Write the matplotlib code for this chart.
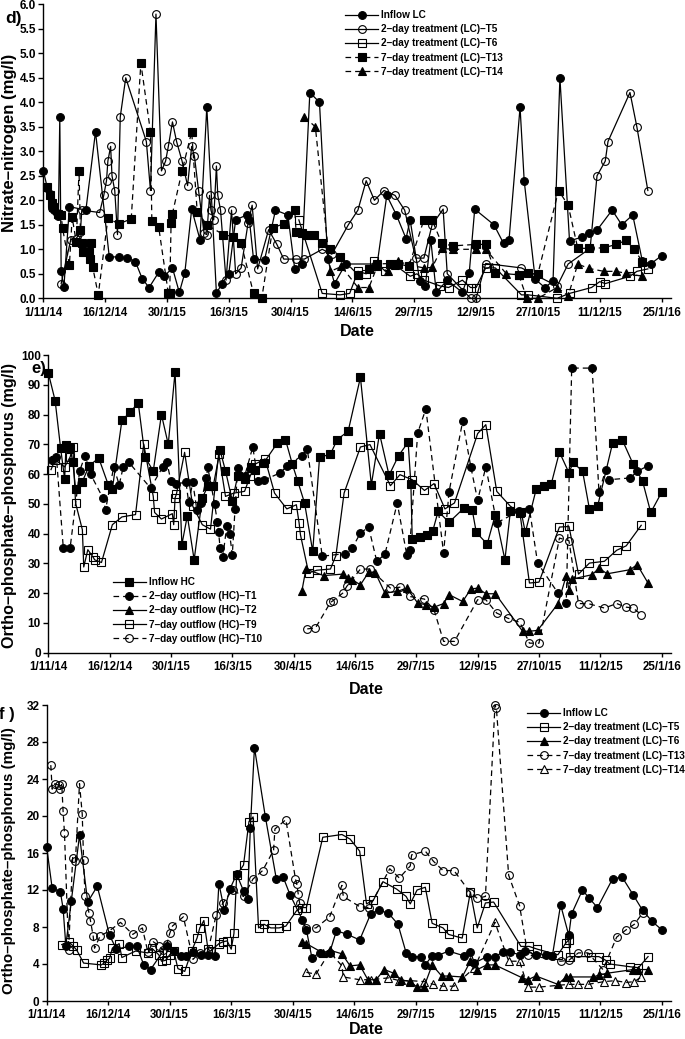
import numpy as np
import pandas as pd
import matplotlib
matplotlib.use('Agg')
import matplotlib.pyplot as plt
from matplotlib.ticker import FixedLocator, FixedFormatter

plt.rcParams['font.family'] = ['Liberation Sans', 'DejaVu Sans']
plt.rcParams['font.weight'] = 'bold'

# ---------------- common x axis ----------------
START = pd.Timestamp('2014-11-01')
x_tick_labels = ["1/11/14", "16/12/14", "30/1/15", "16/3/15", "30/4/15", "14/6/15",
                 "29/7/15", "12/9/15", "27/10/15", "11/12/15", "25/1/16"]
x_end_day = 457

# ---------------- panel d : nitrate-nitrogen ----------------
d_in_day = [0, 3, 5, 6, 8, 10, 11, 12, 13, 15,
            19, 31, 38, 48, 55, 61, 67, 72, 77, 84,
            88, 94, 99, 103, 108, 114, 119, 126, 130, 135,
            140, 148, 150, 153, 161, 169, 178, 183, 188,
            194, 201, 207, 212, 220, 243, 250, 257, 264, 267,
            274, 278, 282, 286, 294, 305, 310, 314, 328, 335,
            339, 347, 350, 358, 365, 371, 376, 383, 392, 397,
            403, 414, 421, 429, 436, 442, 450]
d_in_val = [2.6, 2.25, 2.12, 1.85, 1.8, 1.75, 1.68, 3.7, 0.55, 0.23,
            1.87, 1.8, 3.4, 0.85, 0.84, 0.82, 0.75, 0.4, 0.22, 0.53,
            0.45, 0.62, 0.12, 0.52, 1.82, 1.2, 3.9, 0.1, 0.3, 0.5,
            1.6, 1.7, 1.6, 0.8, 0.78, 1.8, 1.7, 0.6, 0.7,
            4.2, 4.0, 0.8, 0.3, 0.7, 0.7, 2.1, 1.7, 1.22, 1.6,
            0.35, 0.25, 1.2, 0.12, 0.37, 0.12, 0.52, 1.82, 1.5, 1.12,
            1.2, 3.9, 2.4, 0.39, 0.22, 0.35, 4.5, 1.17, 1.25, 1.34,
            1.39, 1.8, 1.5, 1.7, 0.76, 0.7, 0.87]

d_t5_day = [13, 20, 24, 27, 28, 41, 44, 46, 47, 49,
            50, 52, 54, 56, 60, 75, 78, 82, 86, 89,
            91, 94, 97, 101, 105, 108, 110, 113, 117, 119,
            121, 122, 124, 126, 127, 129, 133, 137, 140, 144,
            149, 152, 156, 164, 170, 175, 184, 190, 203, 210,
            222, 229, 235, 241, 248, 256, 263, 271, 277, 283,
            291, 294, 311, 315, 322, 348, 374, 382, 398, 403,
            409, 411, 427, 432, 440]
d_t5_val = [0.3, 1.2, 1.22, 1.35, 1.8, 1.75, 2.1, 2.4, 2.8, 3.1,
            2.5, 2.2, 1.3, 3.7, 4.5, 3.2, 2.2, 5.8, 2.6, 2.8,
            3.1, 3.6, 3.2, 2.8, 2.3, 3.1, 2.9, 2.2, 1.33, 1.3,
            2.1, 1.8, 1.6, 2.7, 2.1, 1.8, 0.37, 1.8, 0.5, 0.62,
            1.53, 1.9, 0.6, 1.4, 1.1, 0.8, 0.8, 0.8, 1.0, 0.9,
            1.5, 1.8, 2.4, 2.0, 2.2, 2.1, 1.8, 0.82, 0.82, 1.5,
            1.82, 0.5, 0.0, 0.0, 0.71, 0.62, 0.25, 0.7, 1.02, 2.5,
            2.8, 3.2, 4.2, 3.5, 2.2]

d_t6_day = [186, 203, 216, 223, 229, 235, 241, 249, 256, 267,
            272, 277, 289, 295, 305, 311, 315, 322, 329, 348,
            353, 374, 383, 399, 405, 409, 427, 432, 440]
d_t6_val = [1.6, 0.1, 0.07, 0.1, 0.55, 0.5, 0.76, 0.55, 0.68, 0.45,
            0.5, 0.37, 0.25, 0.22, 0.37, 0.22, 0.22, 0.62, 0.62, 0.07,
            0.07, 0.0, 0.1, 0.22, 0.34, 0.3, 0.45, 0.55, 0.6]

d_t13_day = [3, 5, 6, 7, 11, 13, 14, 19, 21, 24,
             26, 27, 28, 29, 33, 34, 35, 36, 40, 47,
             55, 64, 71, 78, 79, 84, 91, 92, 93, 94,
             101, 108, 112, 119, 131, 138, 144, 153, 159, 167,
             175, 183, 184, 188, 191, 197, 203, 209, 216, 229,
             237, 243, 252, 258, 266, 277, 283, 290, 298, 315,
             322, 329, 346, 353, 360, 375, 382, 389, 397, 408,
             417, 424, 430, 436]
d_t13_val = [2.27, 2.1, 1.94, 1.87, 1.73, 1.7, 1.43, 0.68, 1.65, 1.15,
             2.6, 1.4, 1.12, 0.95, 0.95, 0.8, 1.12, 0.63, 0.07, 1.63,
             1.52, 1.62, 4.8, 3.4, 1.58, 1.45, 0.1, 0.1, 1.54, 1.73,
             2.6, 3.4, 1.77, 1.5, 1.3, 1.26, 1.12, 0.1, 0.0, 1.44,
             1.52, 1.8, 1.35, 1.33, 1.3, 1.3, 1.13, 1.0, 0.85, 0.48,
             0.6, 0.7, 0.71, 0.71, 0.65, 1.6, 1.6, 1.12, 1.07, 1.1,
             1.1, 0.52, 0.48, 0.51, 0.5, 2.2, 1.9, 1.02, 1.02, 1.03,
             1.1, 1.18, 1.0, 0.75]

d_t14_day = [190, 198, 209, 217, 229, 237, 243, 251, 258, 266,
             277, 283, 290, 298, 315, 322, 337, 346, 352, 360,
             374, 382, 389, 397, 408, 417, 424, 436]
d_t14_val = [3.7, 3.5, 0.55, 0.65, 0.22, 0.22, 0.65, 0.55, 0.76, 0.68,
             0.62, 0.63, 1.02, 1.0, 1.0, 1.0, 0.5, 0.48, 0.0, 0.0,
             0.22, 0.05, 0.7, 0.61, 0.55, 0.55, 0.51, 0.45]

# ---------------- panel e : ortho-phosphate HC ----------------
e_in_day = [0, 5, 9, 12, 13, 16, 18, 20, 25, 30,
            37, 44, 47, 54, 60, 66, 71, 77, 83, 88,
            93, 98, 102, 107, 113, 117, 121, 126, 130, 135,
            139, 144, 149, 152, 158, 168, 174, 179, 183, 188,
            194, 199, 207, 212, 220, 229, 237, 243, 250, 257,
            264, 266, 267, 273, 278, 282, 286, 294, 305, 311,
            314, 322, 328, 335, 339, 347, 350, 358, 364, 369,
            375, 382, 385, 392, 397, 403, 414, 421, 429, 436,
            442, 450]
e_in_val = [94, 84.7, 68.8, 58.3, 69.9, 68.8, 64, 55, 57.5, 62.8,
            65.4, 56.4, 55, 78, 80.8, 83.9, 65.7, 61, 80, 70,
            94.3, 36.3, 46, 31.2, 52, 55.9, 56, 68, 61.1, 51,
            59.5, 58.3, 62.3, 61.5, 63.7, 70.4, 71.6, 63.4, 57.6, 50.3,
            34, 65.6, 66.7, 71.6, 74.4, 92.5, 56.4, 73.6, 59.6, 66.2,
            70.7, 56.8, 38.3, 38.9, 39.6, 40.8, 47.5, 43.8, 48.6, 48,
            40.4, 36.5, 46.4, 31.2, 47.5, 47.1, 40.4, 55, 55.9, 56.7,
            67.4, 60.4, 63.9, 60.9, 48.3, 49.2, 70.4, 71.6, 63.4, 57.6,
            47.1, 53.9]

e_t1_day = [3, 6, 11, 16, 23, 27, 31, 40, 42, 48,
            52, 55, 59, 75, 84, 87, 90, 94, 101, 103,
            106, 109, 112, 116, 117, 122, 124, 125, 126, 128,
            131, 133, 135, 137, 139, 144, 150, 154, 158, 170,
            175, 186, 190, 201, 218, 223, 229, 235, 241, 247,
            256, 263, 265, 271, 277, 290, 294, 304, 310, 315,
            321, 329, 345, 353, 359, 374, 380, 384, 399, 404,
            409, 411, 427, 432, 440]
e_t1_val = [64.8, 65.6, 35.2, 35.2, 61.1, 66.2, 60, 52, 48, 62.4,
            56.4, 62.4, 64, 55.3, 62.4, 64, 57.6, 56.8, 57.2, 50.5,
            57.2, 48, 50.3, 58.7, 62.3, 50, 44, 40.4, 35.2, 32.1,
            42.7, 40, 32.9, 48.3, 62, 59.2, 69.1, 57.6, 57.9, 60.4,
            62.6, 66.2, 68.4, 32.4, 33.3, 35.2, 40.2, 42.2, 30.7, 33.1,
            50.3, 32.9, 34.4, 73.8, 81.9, 33.5, 54, 77.7, 62.4, 51.2,
            62.4, 43.6, 47.5, 48.3, 30.1, 20, 16.7, 95.6, 95.6, 54,
            61.5, 58.1, 58.7, 60.9, 62.8]

e_t2_day = [186, 189, 202, 216, 220, 223, 229, 235, 240, 247,
            256, 263, 271, 277, 283, 290, 294, 304, 310, 315,
            321, 328, 348, 353, 359, 374, 380, 382, 384, 399,
            404, 410, 427, 432, 440]
e_t2_val = [20.6, 28.1, 25.9, 26.4, 25, 24.5, 22.8, 27, 26.8, 20,
            20.6, 21.7, 16.7, 16.1, 15.3, 16.5, 19.5, 17.2, 21.4, 21.7,
            19.8, 19.8, 7.2, 7.2, 7.5, 16.5, 25.9, 21.2, 24.7, 26.2,
            28.4, 26.5, 27.9, 29.6, 23.4]

e_t9_day = [2, 5, 12, 16, 18, 20, 25, 26, 29, 33,
            34, 39, 47, 54, 64, 70, 77, 78, 83, 91,
            92, 93, 94, 100, 106, 113, 119, 125, 130, 136,
            144, 148, 152, 159, 166, 175, 182, 184, 185, 191,
            197, 207, 211, 217, 229, 236, 251, 258, 267, 276,
            283, 291, 298, 315, 321, 329, 339, 346, 353, 360,
            375, 382, 389, 397, 408, 417, 424, 435]
e_t9_val = [61.5, 64.8, 62.4, 65.7, 69.1, 50.3, 41.3, 28.8, 34.6, 32,
            31.2, 30.3, 43, 45.6, 46.4, 70.1, 52.5, 47.1, 44.9, 46.7,
            43, 52, 53.3, 67.3, 49.2, 43, 41.5, 66.9, 52.5, 53.6,
            54.2, 59.2, 63.4, 65.1, 53.6, 48.3, 49.7, 43.6, 39.6, 26.8,
            27.7, 28.1, 32.6, 53.6, 69.1, 69.9, 56.1, 59.8, 58.1, 54.5,
            56.8, 48.3, 50.3, 73.6, 76.6, 54.2, 49.2, 47, 23.4, 23.7,
            42.2, 42.4, 26.4, 30.1, 30.7, 34.4, 35.9, 42.8]

e_t10_day = [190, 196, 207, 209, 216, 219, 229, 236, 251, 258,
             265, 276, 283, 290, 298, 315, 321, 329, 337, 346,
             353, 360, 375, 382, 389, 396, 408, 417, 424, 429,
             435]
e_t10_val = [8, 8.3, 16.9, 17.5, 20, 22.3, 28.1, 28.1, 21.7, 22,
             18.9, 18, 14.4, 3.8, 3.8, 17.8, 17.8, 13.3, 11.6, 10.2,
             3.2, 3.2, 38.5, 37.6, 16.5, 16.5, 15, 16.5, 15.3, 15,
             12.8]

# ---------------- panel f : ortho-phosphate LC ----------------
f_in_day = [0, 4, 10, 12, 14, 18, 24, 30, 37,
            46, 51, 60, 66, 71, 76, 88, 93, 98, 102,
            107, 113, 118, 123, 126, 130, 134, 139, 144, 147,
            149, 152, 160, 168, 173, 178, 187, 190, 194, 200,
            207, 212, 220, 229, 237, 243, 250, 257, 263, 267,
            274, 277, 282, 286, 294, 305, 310, 313, 322, 328,
            334, 339, 346, 350, 358, 365, 370, 376, 382, 384,
            392, 397, 403, 414, 421, 429, 436, 443, 450]
f_in_val = [16.6, 12.2, 11.8, 10, 6, 10.8, 17.9, 10.7, 12.4,
            7.1, 5.6, 5.9, 5.9, 3.9, 3.4, 6, 5.4, 4.9, 4.9,
            5.3, 5, 5, 4.9, 12.7, 9.8, 12.1, 13.7, 11.9, 11,
            18.7, 27.4, 19.9, 13.2, 13.4, 11.5, 8.8, 7.7, 4.7, 5.2,
            5.2, 7.6, 7.2, 6.6, 9.4, 9.8, 9.5, 8.3, 5.2, 4.8,
            4.8, 3.9, 4.9, 4.9, 5.4, 4.9, 5.3, 4.1, 4.8, 4.8,
            5.3, 5.3, 5, 5.4, 5, 5, 4.9, 10.4, 7.1, 9.4,
            12, 11.1, 10.1, 13.2, 13.4, 11.5, 9.8, 8.6, 7.7]

f_t5_day = [11, 16, 19, 22, 27, 40, 42, 44, 46, 48,
            53, 55, 65, 74, 77, 82, 84, 87, 90, 93,
            96, 101, 106, 110, 112, 115, 118, 120, 126, 129,
            132, 135, 137, 139, 144, 148, 151, 155, 159, 164,
            170, 175, 183, 187, 190, 202, 216, 222, 229, 234,
            239, 246, 256, 263, 266, 271, 277, 282, 290, 294,
            304, 310, 315, 321, 327, 347, 353, 359, 374, 380,
            382, 383, 398, 404, 409, 412, 427, 433, 440]
f_t5_val = [6.1, 6.4, 6, 5.5, 4.1, 3.9, 4.1, 4.4, 4.6, 5.7,
            6.2, 4.7, 5.4, 5.2, 5.7, 5, 4.3, 4.4, 5, 5.4,
            3.5, 3.2, 5.4, 6.8, 7.9, 8.7, 5.6, 5.4, 6.2, 6.4,
            6.5, 5.6, 7.3, 13.6, 14.7, 19.4, 19.9, 7.9, 8.3, 7.9,
            7.9, 8.1, 9.8, 10.1, 10.1, 17.7, 18, 17.5, 16.2, 10.5,
            10.9, 12.9, 12.1, 11.3, 10.5, 12, 12.3, 8.4, 7.9, 7.2,
            6.8, 11.8, 7.9, 10.6, 10.7, 5.9, 5.9, 5.6, 5, 6.3,
            6.6, 4.8, 4.8, 4.8, 4.4, 4, 3.7, 3.6, 4.8]

f_t6_day = [187, 190, 202, 207, 216, 222, 229, 235, 241, 247,
            254, 259, 266, 271, 276, 282, 289, 294, 304, 310,
            315, 322, 328, 348, 352, 358, 374, 380, 383, 400,
            404, 410, 429, 433, 440]
f_t6_val = [6.4, 6.2, 5.2, 5.5, 5.1, 3.8, 3.9, 2.3, 2.3, 3.4,
            3.0, 2.3, 2.1, 1.5, 1.5, 3.9, 2.7, 2.7, 2.6, 4.3,
            3.4, 3.9, 3.9, 2.5, 2.3, 2.7, 1.8, 2.6, 2.6, 2.6,
            2.8, 3.0, 3.4, 3.4, 3.4]

f_t13_day = [3, 4, 6, 9, 10, 11, 12, 13, 16, 19,
             21, 24, 26, 27, 28, 31, 32, 34, 35, 39,
             46, 54, 63, 70, 74, 78, 82, 85, 88, 90,
             92, 100, 107, 112, 118, 124, 129, 136, 144, 151,
             158, 166, 167, 175, 182, 183, 184, 185, 190, 197,
             207, 216, 217, 229, 236, 251, 258, 266, 267, 277,
             283, 290, 298, 310, 315, 321, 328, 329, 338, 346,
             352, 376, 382, 389, 396, 407, 417, 424, 430, 436]
f_t13_val = [25.5, 22.9, 23.5, 23.3, 22.9, 23.5, 20.5, 18.2, 5.5, 15.5,
             15.1, 23.5, 20.2, 15.2, 11.4, 9.5, 8.7, 7, 5.7, 7,
             7.6, 8.5, 7.2, 7.9, 5.3, 6.4, 6, 5.5, 6.2, 7.3,
             8.1, 9.1, 4.5, 5.2, 5.4, 9.3, 10.6, 12, 11.3, 13.2,
             14.1, 16.3, 18.6, 19.6, 13.2, 12.6, 11.6, 10.6, 7.9, 7.9,
             9.1, 12.5, 11.3, 10.2, 10.1, 14.3, 13.3, 14.6, 15.8, 16.2,
             15.1, 14.1, 14.1, 11.7, 11.1, 11.3, 32, 31.7, 13.6, 10.3,
             5, 4.3, 4.4, 5.2, 5.2, 3.4, 6.9, 7.7, 8.3, 9.5]

f_t14_day = [190, 197, 207, 216, 217, 229, 237, 250, 258, 266,
             276, 283, 290, 298, 313, 328, 338, 346, 352, 360,
             382, 389, 396, 408, 416, 424, 430, 435]
f_t14_val = [3.1, 2.9, 5.3, 3.8, 2.6, 2.3, 2.3, 2.5, 2.2, 2.2,
             2.1, 1.8, 1.6, 1.6, 3.6, 8.5, 4.3, 4.3, 1.5, 1.5,
             1.8, 1.8, 1.8, 2.1, 2.2, 2.0, 2.1, 2.6]

# ---------------- labels ----------------
d_labels = ["Inflow LC", "2\u2013day treatment (LC)\u2013T5", "2\u2013day treatment (LC)\u2013T6",
            "7\u2013day treatment (LC)\u2013T13", "7\u2013day treatment (LC)\u2013T14"]
e_labels = ["Inflow HC", "2\u2013day outflow (HC)\u2013T1", "2\u2013day outflow (HC)\u2013T2",
            "7\u2013day outflow (HC)\u2013T9", "7\u2013day outflow (HC)\u2013T10"]
f_labels = ["Inflow LC", "2\u2013day treatment (LC)\u2013T5", "2\u2013day treatment (LC)\u2013T6",
            "7\u2013day treatment (LC)\u2013T13", "7\u2013day treatment (LC)\u2013T14"]

# ---------------- drawing ----------------
W, H = 685.0, 1039.0
fig = plt.figure(figsize=(W / 100, H / 100), dpi=100)


def add_ax(l, t, r, b):
    return fig.add_axes([l / W, 1 - b / H, (r - l) / W, (b - t) / H])


def to_dates(days):
    return START + pd.to_timedelta(np.asarray(days, dtype=float), unit='D')


STYLES = {
    'fcirc': dict(marker='o', mfc='black', ms=5.6),
    'ocirc': dict(marker='o', mfc='none', ms=5.6),
    'fsq': dict(marker='s', mfc='black', ms=5.2),
    'osq': dict(marker='s', mfc='none', ms=5.2),
    'ftri': dict(marker='^', mfc='black', ms=5.8),
    'otri': dict(marker='^', mfc='none', ms=5.8),
}


def draw(ax, days, vals, mk, dashed):
    st = STYLES[mk]
    kw = dict(color='black', lw=0.9, marker=st['marker'], ms=st['ms'], mfc=st['mfc'],
              mec='black', mew=0.8, clip_on=False)
    if dashed:
        kw['linestyle'] = (0, (4.5, 3.2))
    ln, = ax.plot(to_dates(days), vals, **kw)
    return ln


def style_axis(ax, ymax, ystep, yfmt):
    for s in ['top', 'right']:
        ax.spines[s].set_visible(False)
    for s in ['left', 'bottom']:
        ax.spines[s].set_linewidth(1.0)
    ax.set_xlim(START, START + pd.Timedelta(days=x_end_day))
    ax.set_ylim(0, ymax)
    tick_pos = pd.to_datetime(x_tick_labels, format='%d/%m/%y')
    ax.xaxis.set_major_locator(FixedLocator(matplotlib.dates.date2num(tick_pos)))
    ax.xaxis.set_major_formatter(FixedFormatter(x_tick_labels))
    yt = np.arange(0, ymax + ystep / 2, ystep)
    ax.set_yticks(yt)
    ax.set_yticklabels([yfmt.format(v) for v in yt])
    ax.tick_params(axis='x', direction='out', length=3, width=1.0, pad=3, labelsize=8.3)
    ax.tick_params(axis='y', direction='out', length=3.5, width=1.0, pad=1.8, labelsize=8.5)
    ax.patch.set_alpha(0)


def legend(ax, handles, labels, px, py):
    ax.legend(handles, labels, loc='upper left', bbox_to_anchor=(px / W, 1 - py / H),
              bbox_transform=fig.transFigure, frameon=False,
              prop={'weight': 'bold', 'size': 7.2}, handlelength=3.3, handletextpad=0.3,
              labelspacing=0.42, borderpad=0, borderaxespad=0, numpoints=1)


# panel d
axd = add_ax(43.3, 4.3, 671.2, 298.3)
hd = [draw(axd, d_in_day, d_in_val, 'fcirc', False),
      draw(axd, d_t5_day, d_t5_val, 'ocirc', False),
      draw(axd, d_t6_day, d_t6_val, 'osq', False),
      draw(axd, d_t13_day, d_t13_val, 'fsq', True),
      draw(axd, d_t14_day, d_t14_val, 'ftri', True)]
style_axis(axd, 6.0, 0.5, '{:.1f}')
legend(axd, hd, d_labels, 345, 10)

# panel e
axe = add_ax(48.3, 355, 671.2, 652.7)
he = [draw(axe, e_in_day, e_in_val, 'fsq', False),
      draw(axe, e_t1_day, e_t1_val, 'fcirc', True),
      draw(axe, e_t2_day, e_t2_val, 'ftri', False),
      draw(axe, e_t9_day, e_t9_val, 'osq', False),
      draw(axe, e_t10_day, e_t10_val, 'ocirc', True)]
style_axis(axe, 100, 10, '{:.0f}')
legend(axe, he, e_labels, 113, 577)

# panel f
axf = add_ax(46.7, 705, 671.3, 1001)
hf = [draw(axf, f_in_day, f_in_val, 'fcirc', False),
      draw(axf, f_t5_day, f_t5_val, 'osq', False),
      draw(axf, f_t6_day, f_t6_val, 'ftri', False),
      draw(axf, f_t13_day, f_t13_val, 'ocirc', True),
      draw(axf, f_t14_day, f_t14_val, 'otri', True)]
style_axis(axf, 32, 4, '{:.0f}')
legend(axf, hf, f_labels, 527, 708)

# axis titles and panel letters
def ftext(x, y, s, **kw):
    fig.text(x / W, 1 - y / H, s, **kw)

ylab = "Ortho\u2013phosphate\u2013phosphorus (mg/l)"
ftext(10, 143, "Nitrate\u2013nitrogen (mg/l)", rotation=90, ha='center', va='center', fontsize=12)
ftext(10, 506, ylab, rotation=90, ha='center', va='center', fontsize=11.6)
ftext(9.5, 861, ylab, rotation=90, ha='center', va='center', fontsize=10.9)
ftext(357, 331, "Date", ha='center', va='center', fontsize=11.5)
ftext(366, 690, "Date", ha='center', va='center', fontsize=11.5)
ftext(366, 1029, "Date", ha='center', va='center', fontsize=11.5)
ftext(13, 19, "d)", ha='center', va='center', fontsize=12.5)
ftext(39, 368, "e)", ha='center', va='center', fontsize=12)
ftext(7, 715, "f )", ha='center', va='center', fontsize=12)

fig.savefig('out.png', dpi=100)
